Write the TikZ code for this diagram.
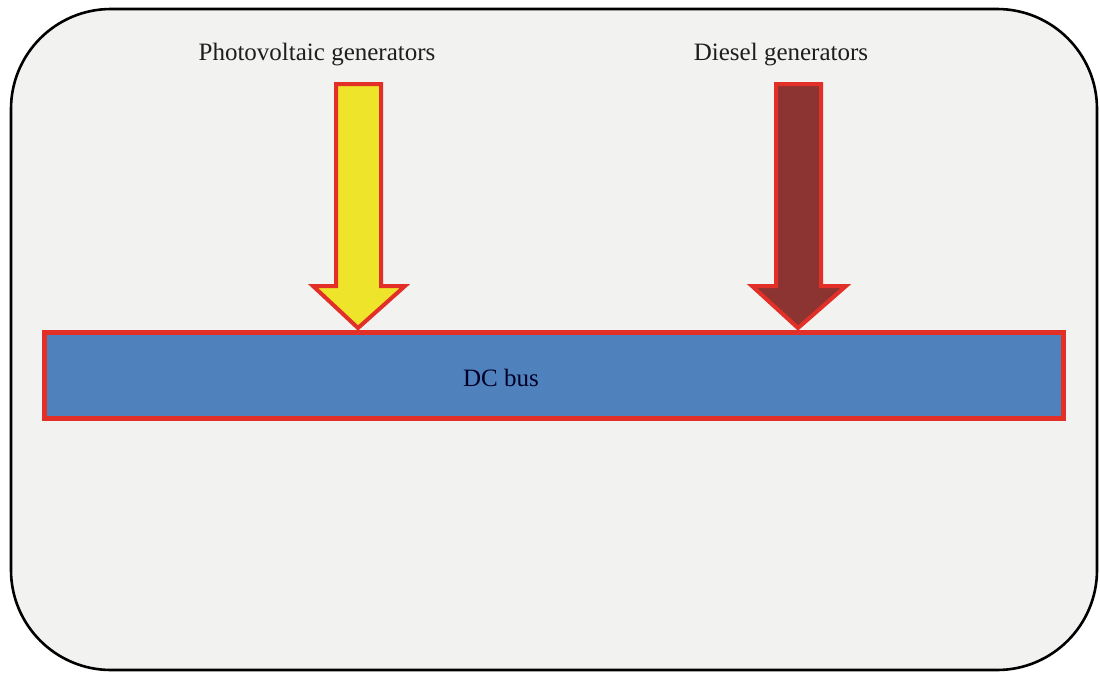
\documentclass[tikz,border=0pt]{standalone}
\usepackage{fontspec}
\setmainfont{Liberation Serif}
\definecolor{panelfill}{RGB}{242,242,240}
\definecolor{pvyellow}{RGB}{238,228,42}
\definecolor{dieselbrown}{RGB}{140,52,50}
\definecolor{edgered}{RGB}{226,48,40}
\definecolor{busblue}{RGB}{79,129,189}
\definecolor{labeltext}{RGB}{30,30,30}
\begin{document}
\begin{tikzpicture}[x=1pt,y=-1pt,
  panel/.style={draw=black,line width=2.6pt,fill=panelfill,rounded corners=100pt},
  feedarrow/.style={draw=edgered,line width=4pt,line join=miter},
  busbox/.style={draw=edgered,line width=5pt,fill=busblue,minimum width=1019pt,minimum height=86pt,inner sep=0pt,
    font=\fontsize{25}{30}\selectfont,text=black!85!blue},
  srclabel/.style={font=\fontsize{25}{30}\selectfont,text=labeltext,inner sep=0pt}]
  \useasboundingbox (0,0) rectangle (1100,675);
  % outer panel
  \draw[panel] (11,9) rectangle (1097,670);
  % source labels
  \node[srclabel] (pv) at (317,55) {Photovoltaic generators};
  \node[srclabel] (diesel) at (781,55) {Diesel generators};
  % feed arrows into the bus
  \draw[feedarrow,fill=pvyellow] (336,84) -- (381,84) -- (381,286) -- (405,286) -- (358,328)
    -- (313,286) -- (336,286) -- cycle;
  \draw[feedarrow,fill=dieselbrown] (776,84) -- (821,84) -- (821,286) -- (846,286) -- (798,328)
    -- (752,286) -- (776,286) -- cycle;
  % DC bus
  \node[busbox,anchor=north west] (bus) at (42,330) {};
  \node[font=\fontsize{25}{30}\selectfont,text=black!85!blue] (buslabel) at (501,378) {DC bus};
\end{tikzpicture}
\end{document}
